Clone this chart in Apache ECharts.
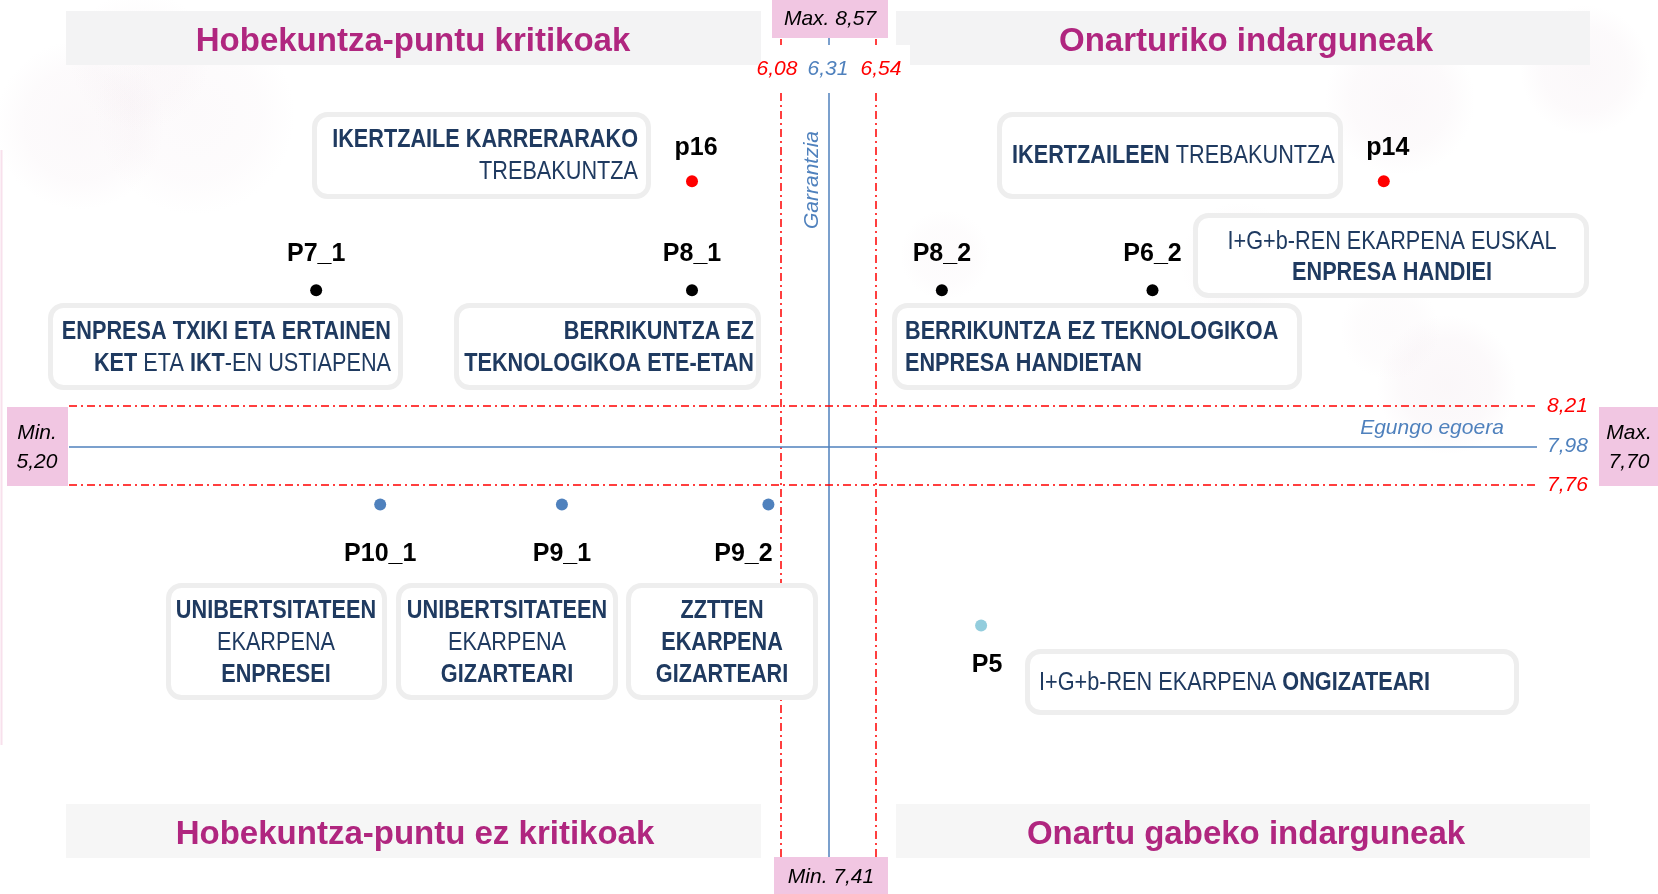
<!DOCTYPE html>
<html>
<head>
<meta charset="utf-8">
<script src="https://cdn.jsdelivr.net/npm/echarts@6/dist/echarts.min.js"></script>
<style>
html,body{margin:0;padding:0;background:#fff;}
#chart{width:1658px;height:894px;}
</style>
</head>
<body>
<div id="chart"></div>
<script>
// ---------- DATA ----------
const quadrantTitles = ['Hobekuntza-puntu kritikoak', 'Onarturiko indarguneak', 'Hobekuntza-puntu ez kritikoak', 'Onartu gabeko indarguneak'];
const xAxisName = 'Egungo egoera';
const yAxisName = 'Garrantzia';
const xRange = [5.20, 7.70];          // Egungo egoera: Min / Max
const yRange = [7.41, 8.57];          // Garrantzia: Min / Max
const xCenter = 6.31;                 // batez bestekoa (Egungo egoera)
const xBand = [6.08, 6.54];
const yCenter = 7.98;                 // batez bestekoa (Garrantzia)
const yBand = [7.76, 8.21];

const pointNames = ['p16', 'p14', 'P7_1', 'P8_1', 'P8_2', 'P6_2', 'P10_1', 'P9_1', 'P9_2', 'P5'];
const pointX     = [5.65, 9.00, 3.83, 5.65, 6.86, 7.88, 4.14, 5.02, 6.02, 7.05];
const pointY     = [9.49, 9.49, 8.87, 8.87, 8.87, 8.87, 7.65, 7.65, 7.65, 6.96];
const pointGroup = ['gorria', 'gorria', 'beltza', 'beltza', 'beltza', 'beltza', 'urdina', 'urdina', 'urdina', 'argia'];

// ---------- STYLE ----------
const groupColor = { gorria: '#ff0000', beltza: '#000000', urdina: '#4f81bd', argia: '#93cddd' };
const labelOffset = {
  p16: [4, -33], p14: [4, -33],
  P7_1: [0, -36], P8_1: [0, -36], P8_2: [0, -36], P6_2: [0, -36],
  P10_1: [0, 50], P9_1: [0, 50], P9_2: [-25, 50], P5: [6, 40]
};
const NAVY = '#1f3a60';
const BLUE = '#4f81bd';
const RED = '#ff0000';
const MAG = '#b0267f';
const PINK = '#f1c6e2';
const SANS = "'Liberation Sans', Arial, sans-serif";
const NARROW_SCALE = 0.85;
const fmt = v => v.toFixed(2).replace('.', ',');
const dashDot = [8, 4, 2, 4];

const chart = echarts.init(document.getElementById('chart'), null, { renderer: 'canvas' });

function richStyles(lh) {
  return {
    b: { fontFamily: SANS, fontSize: 25.5, fontWeight: 'bold', fill: NAVY, lineHeight: lh },
    r: { fontFamily: SANS, fontSize: 25.5, fontWeight: 'normal', fill: NAVY, lineHeight: lh }
  };
}
function box(x, y, w, h) {
  return { type: 'rect', z: 10, silent: true,
    shape: { x: x + 2.5, y: y + 2.5, width: w - 5, height: h - 5, r: 13 },
    style: { fill: '#ffffff', stroke: '#eeeeee', lineWidth: 5 } };
}
function rtext(x, y, text, align, lh) {
  return { type: 'text', z: 11, silent: true, x: x, y: y, scaleX: NARROW_SCALE,
    style: { x: 0, y: 0, text: text, align: align, verticalAlign: 'middle', rich: richStyles(lh || 32), fill: NAVY } };
}
function plain(x, y, text, opts) {
  return { type: 'text', z: opts.z || 12, silent: true, rotation: opts.rotation || 0, x: x, y: y,
    style: Object.assign({ x: 0, y: 0, text: text, align: 'center', verticalAlign: 'middle' }, opts.style) };
}
function bubble(cx, cy, r, a) {
  return { type: 'circle', z: -10, silent: true, shape: { cx: cx, cy: cy, r: r },
    style: { fill: new echarts.graphic.RadialGradient(0.5, 0.5, 0.5, [
      { offset: 0, color: 'rgba(228,205,218,' + a + ')' },
      { offset: 0.65, color: 'rgba(228,205,218,' + (a * 0.7) + ')' },
      { offset: 1, color: 'rgba(228,205,218,0)' }]) } };
}

const italicNum = (c, size) => ({ fontFamily: SANS, fontStyle: 'italic', fontSize: size || 21, fill: c });
const titleStyle = { fontFamily: SANS, fontWeight: 'bold', fontSize: 33, fill: MAG };

const graphics = [
  // faint background bubbles
  bubble(80, 125, 85, 0.13), bubble(195, 115, 100, 0.1), bubble(140, 60, 70, 0.08),
  bubble(1400, 100, 75, 0.14), bubble(1585, 70, 65, 0.14), bubble(1447, 385, 70, 0.16),
  bubble(1240, 262, 60, 0.08), bubble(945, 255, 45, 0.08), bubble(1390, 330, 50, 0.08),
  { type: 'line', z: -5, silent: true, shape: { x1: 1.5, y1: 150, x2: 1.5, y2: 745 }, style: { stroke: '#f8e0ec', lineWidth: 2 } },

  // quadrant title bands
  { type: 'rect', z: 1, silent: true, shape: { x: 66, y: 11, width: 695, height: 54 }, style: { fill: '#f3f3f4' } },
  { type: 'rect', z: 1, silent: true, shape: { x: 896, y: 11, width: 694, height: 54 }, style: { fill: '#f3f3f4' } },
  { type: 'rect', z: 1, silent: true, shape: { x: 66, y: 804, width: 695, height: 54 }, style: { fill: '#f6f6f6' } },
  { type: 'rect', z: 1, silent: true, shape: { x: 896, y: 804, width: 694, height: 54 }, style: { fill: '#f6f6f6' } },
  plain(413, 42, quadrantTitles[0], { style: titleStyle }),
  plain(1246, 42, quadrantTitles[1], { style: titleStyle }),
  plain(415, 835, quadrantTitles[2], { style: titleStyle }),
  plain(1246, 835, quadrantTitles[3], { style: titleStyle }),

  // min / max boxes
  { type: 'rect', z: 12, silent: true, shape: { x: 772, y: 0, width: 116, height: 38 }, style: { fill: PINK } },
  plain(830, 19, 'Max. ' + fmt(yRange[1]), { z: 13, style: italicNum('#000') }),
  { type: 'rect', z: 12, silent: true, shape: { x: 774, y: 857, width: 114, height: 37 }, style: { fill: PINK } },
  plain(831, 877, 'Min. ' + fmt(yRange[0]), { z: 13, style: italicNum('#000') }),
  { type: 'rect', z: 12, silent: true, shape: { x: 7, y: 407, width: 61, height: 79 }, style: { fill: PINK } },
  plain(37, 433, 'Min.', { z: 13, style: italicNum('#000') }),
  plain(37, 462, fmt(xRange[0]), { z: 13, style: italicNum('#000') }),
  { type: 'rect', z: 12, silent: true, shape: { x: 1599, y: 407, width: 59, height: 79 }, style: { fill: PINK } },
  plain(1629, 433, 'Max.', { z: 13, style: italicNum('#000') }),
  plain(1629, 462, fmt(xRange[1]), { z: 13, style: italicNum('#000') }),

  // vertical line value labels
  { type: 'rect', z: 12, silent: true, shape: { x: 761, y: 45, width: 149, height: 48 }, style: { fill: '#ffffff' } },
  plain(777, 69, fmt(xBand[0]), { z: 13, style: italicNum(RED) }),
  plain(828, 69, fmt(xCenter), { z: 13, style: italicNum(BLUE) }),
  plain(881, 69, fmt(xBand[1]), { z: 13, style: italicNum(RED) }),

  // axis names
  plain(812, 180, yAxisName, { rotation: Math.PI / 2, z: 13, style: italicNum(BLUE) }),
  plain(1432, 428, xAxisName, { z: 13, style: italicNum(BLUE) }),

  // text boxes
  box(312, 112, 339, 87),
  rtext(638, 156, '{b|IKERTZAILE KARRERARAKO}\n{r|TREBAKUNTZA}', 'right'),
  box(48, 303, 355, 87),
  rtext(391, 348, '{b|ENPRESA TXIKI ETA ERTAINEN}\n{b|KET}{r| ETA }{b|IKT}{r|-EN USTIAPENA}', 'right'),
  box(454, 303, 307, 87),
  rtext(754, 348, '{b|BERRIKUNTZA EZ}\n{b|TEKNOLOGIKOA ETE-ETAN}', 'right'),
  box(997, 112, 346, 87),
  rtext(1012, 156, '{b|IKERTZAILEEN}{r| TREBAKUNTZA}', 'left'),
  box(1193, 213, 396, 85),
  rtext(1392, 257.5, '{r|I+G+b-REN EKARPENA EUSKAL}\n{b|ENPRESA HANDIEI}', 'center', 31),
  box(892, 303, 410, 87),
  rtext(905, 348, '{b|BERRIKUNTZA EZ TEKNOLOGIKOA}\n{b|ENPRESA HANDIETAN}', 'left'),
  box(166, 583, 221, 117),
  rtext(276, 643, '{b|UNIBERTSITATEEN}\n{r|EKARPENA}\n{b|ENPRESEI}', 'center'),
  box(396, 583, 222, 117),
  rtext(507, 643, '{b|UNIBERTSITATEEN}\n{r|EKARPENA}\n{b|GIZARTEARI}', 'center'),
  box(626, 583, 192, 117),
  rtext(722, 643, '{b|ZZTTEN}\n{b|EKARPENA}\n{b|GIZARTEARI}', 'center'),
  box(1025, 649, 494, 66),
  rtext(1039, 683, '{r|I+G+b-REN EKARPENA }{b|ONGIZATEARI}', 'left')
];

const groups = ['gorria', 'beltza', 'urdina', 'argia'];
const series = groups.map((g, gi) => {
  const data = [];
  pointNames.forEach((n, i) => {
    if (pointGroup[i] !== g) return;
    data.push({ name: n, value: [pointX[i], pointY[i]], label: { offset: labelOffset[n] } });
  });
  const s = {
    type: 'scatter', name: g, z: 5, symbolSize: 12, data: data,
    itemStyle: { color: groupColor[g], opacity: 1 },
    label: { show: true, position: 'inside', formatter: '{b}', color: '#000', fontFamily: SANS, fontWeight: 'bold', fontSize: 25 },
    silent: true
  };
  if (gi === 0) {
    const vLine = (v, c, t) => ({ xAxis: v, label: { show: false }, lineStyle: { color: c, type: t, width: 1.5 } });
    const hLine = (v, c, t) => ({ yAxis: v, lineStyle: { color: c, type: t, width: 1.5 },
      label: { show: true, position: 'end', distance: 10, formatter: fmt(v), color: c, fontFamily: SANS, fontStyle: 'italic', fontSize: 21 } });
    s.markLine = {
      silent: true, symbol: ['none', 'none'], animation: false, z: 3,
      data: [
        vLine(xCenter, BLUE, 'solid'), vLine(xBand[0], RED, dashDot), vLine(xBand[1], RED, dashDot),
        hLine(yCenter, BLUE, 'solid'), hLine(yBand[0], RED, dashDot), hLine(yBand[1], RED, dashDot)
      ]
    };
  }
  return s;
});

chart.setOption({
  animation: false,
  backgroundColor: '#ffffff',
  grid: { left: 69, right: 121, top: 38, bottom: 37, containLabel: false },
  xAxis: { type: 'value', min: 2.633, max: 9.742, show: false },
  yAxis: { type: 'value', min: 5.642, max: 10.306, show: false },
  graphic: graphics,
  series: series
});
</script>
</body>
</html>
